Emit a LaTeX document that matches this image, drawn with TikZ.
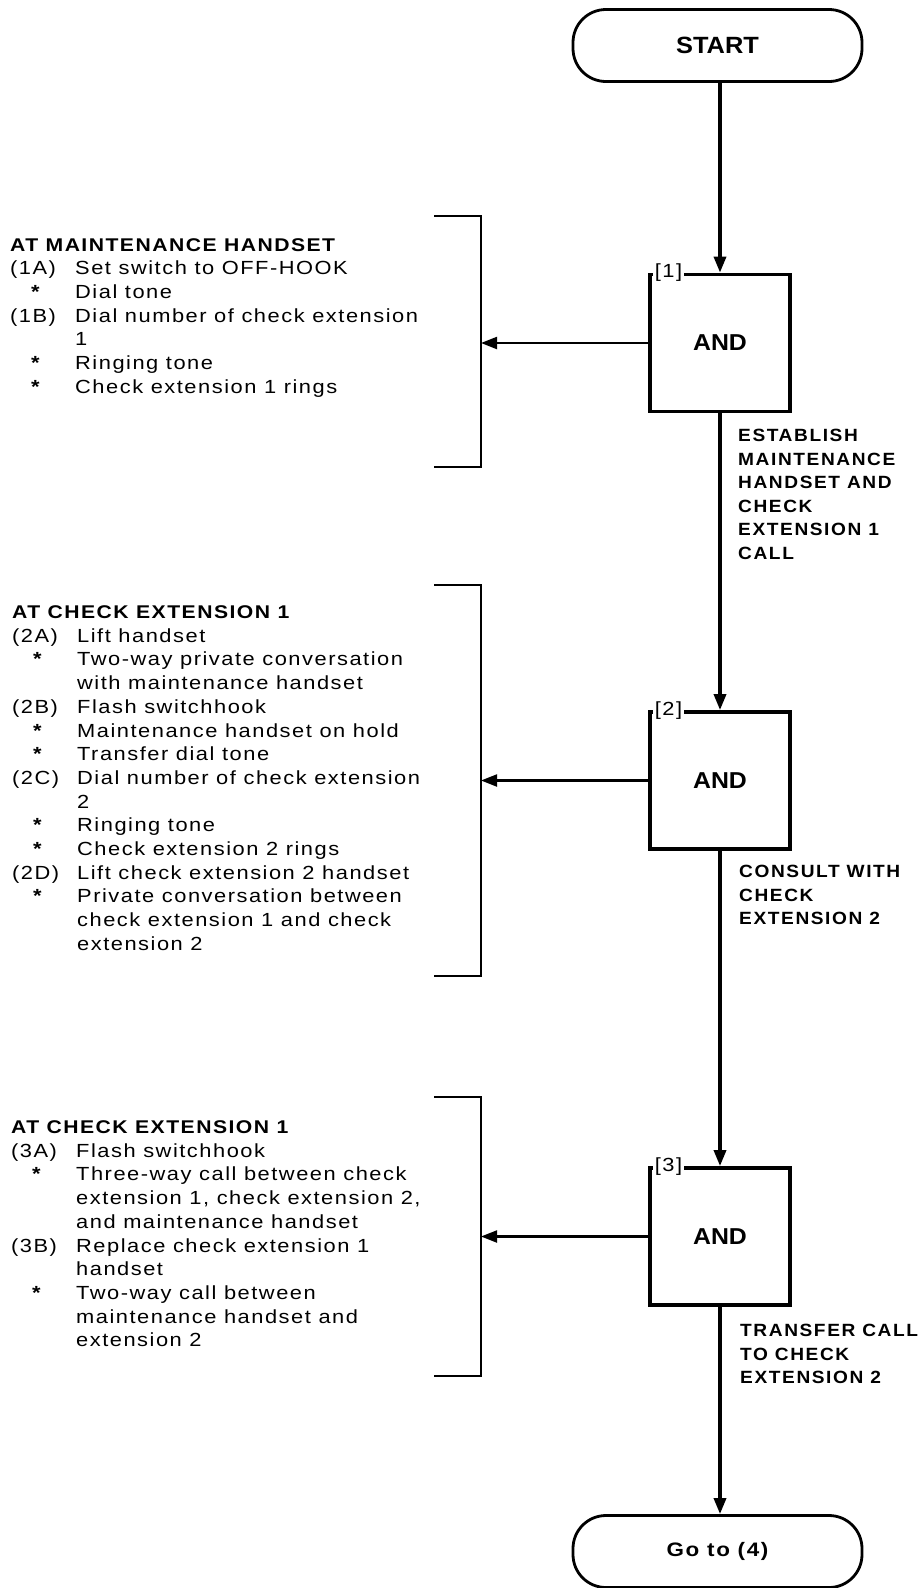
\documentclass[tikz,border=0pt]{standalone}
\usepackage{fontspec}
\setmainfont{Liberation Sans}[FakeStretch=1.08]
\newfontfamily\spacedfont{Liberation Sans}[FakeStretch=1.15, LetterSpace=8]
\newfontfamily\capfont{Liberation Sans}[FakeStretch=1.08, LetterSpace=9]
\usetikzlibrary{arrows.meta}

% column helpers for the step lists
\newcommand\steplabel[1]{\makebox[65pt][l]{#1}}
\newcommand\starline{\makebox[65pt][l]{\hspace{21pt}\textbf{*}}}
\newcommand\headfont{\fontsize{18.4}{23.7}\selectfont\bfseries}

\begin{document}
\begin{tikzpicture}[x=1pt,y=-1pt,
  gate/.style={draw, line width=3.8pt, minimum width=140pt, minimum height=137pt,
    inner sep=0pt, font=\fontsize{23}{27}\selectfont\bfseries},
  terminal/.style={draw, line width=2.8pt, rounded corners=33pt,
    minimum width=289pt, minimum height=72pt, inner sep=0pt},
  flow/.style={line width=3.4pt, -{Triangle[length=16pt,width=12pt]}},
  feed/.style={line width=2.1pt, -{Triangle[length=16pt,width=12pt]}},
  bracketline/.style={line width=2.1pt},
  note/.style={anchor=base west, inner sep=0pt,
    font=\spacedfont\fontsize{19}{23.7}\selectfont},
  flowcaption/.style={anchor=base west, inner sep=0pt,
    font=\capfont\fontsize{17.7}{23.6}\selectfont\bfseries},
  tag/.style={anchor=west, fill=white, inner sep=1.5pt,
    font=\spacedfont\fontsize{19}{20}\selectfont}
]
\fill[white] (0,0) rectangle (923,1588);
\useasboundingbox (0,0) rectangle (923,1588);

% terminals and AND gates
\node[terminal, font=\fontsize{23.5}{28}\selectfont\bfseries] (start) at (717.5,45.5) {START};
\node[gate] (g1) at (720,343) {AND};
\node[gate] (g2) at (720,780.5) {AND};
\node[gate] (g3) at (720,1236.5) {AND};
\node[terminal, font=\spacedfont\fontsize{19.5}{22}\selectfont\bfseries] (goto) at (717.5,1551.5) {Go to (4)};

\node[tag] (t1) at ([xshift=5pt]g1.north west) {[1]};
\node[tag] (t2) at ([xshift=5pt]g2.north west) {[2]};
\node[tag] (t3) at ([xshift=5pt]g3.north west) {[3]};

% main flow
\draw[flow] (g1.north |- start.south) -- (g1.north);
\draw[flow] (g1.south) -- (g2.north);
\draw[flow] (g2.south) -- (g3.north);
\draw[flow] (g3.south) -- (goto.north -| g3.south);

% brackets around the step lists
\coordinate (k1) at (481,343);
\coordinate (k2) at (481,780.5);
\coordinate (k3) at (481,1236.5);
\draw[bracketline] (434,216) -- (481,216) -- (481,467) -- (434,467);
\draw[bracketline] (434,585) -- (481,585) -- (481,976) -- (434,976);
\draw[bracketline] (434,1097) -- (481,1097) -- (481,1376) -- (434,1376);
\draw[feed] (g1.west) -- (k1);
\draw[feed] (g2.west) -- (k2);
\draw[feed] (g3.west) -- (k3);

% step lists
\node[note] (n1) at (10,251) {\begin{tabular}[t]{@{}l@{}}
{\headfont AT MAINTENANCE HANDSET}\\
\steplabel{(1A)}Set switch to OFF-HOOK\\
\starline Dial tone\\
\steplabel{(1B)}Dial number of check extension\\
\steplabel{}1\\
\starline Ringing tone\\
\starline Check extension 1 rings
\end{tabular}};

\node[note] (n2) at (12,618.5) {\begin{tabular}[t]{@{}l@{}}
{\headfont AT CHECK EXTENSION 1}\\
\steplabel{(2A)}Lift handset\\
\starline Two-way private conversation\\
\steplabel{}with maintenance handset\\
\steplabel{(2B)}Flash switchhook\\
\starline Maintenance handset on hold\\
\starline Transfer dial tone\\
\steplabel{(2C)}Dial number of check extension\\
\steplabel{}2\\
\starline Ringing tone\\
\starline Check extension 2 rings\\
\steplabel{(2D)}Lift check extension 2 handset\\
\starline Private conversation between\\
\steplabel{}check extension 1 and check\\
\steplabel{}extension 2
\end{tabular}};

\node[note] (n3) at (11,1133.5) {\begin{tabular}[t]{@{}l@{}}
{\headfont AT CHECK EXTENSION 1}\\
\steplabel{(3A)}Flash switchhook\\
\starline Three-way call between check\\
\steplabel{}extension 1, check extension 2,\\
\steplabel{}and maintenance handset\\
\steplabel{(3B)}Replace check extension 1\\
\steplabel{}handset\\
\starline Two-way call between\\
\steplabel{}maintenance handset and\\
\steplabel{}extension 2
\end{tabular}};

% captions of the flow steps
\node[flowcaption] (c1) at (738,441.5) {\begin{tabular}[t]{@{}l@{}}
ESTABLISH\\ MAINTENANCE\\ HANDSET AND\\ CHECK\\ EXTENSION 1\\ CALL
\end{tabular}};
\node[flowcaption] (c2) at (739,877.5) {\begin{tabular}[t]{@{}l@{}}
CONSULT WITH\\ CHECK\\ EXTENSION 2
\end{tabular}};
\node[flowcaption] (c3) at (740,1336.5) {\begin{tabular}[t]{@{}l@{}}
TRANSFER CALL\\ TO CHECK\\ EXTENSION 2
\end{tabular}};
\end{tikzpicture}
\end{document}
